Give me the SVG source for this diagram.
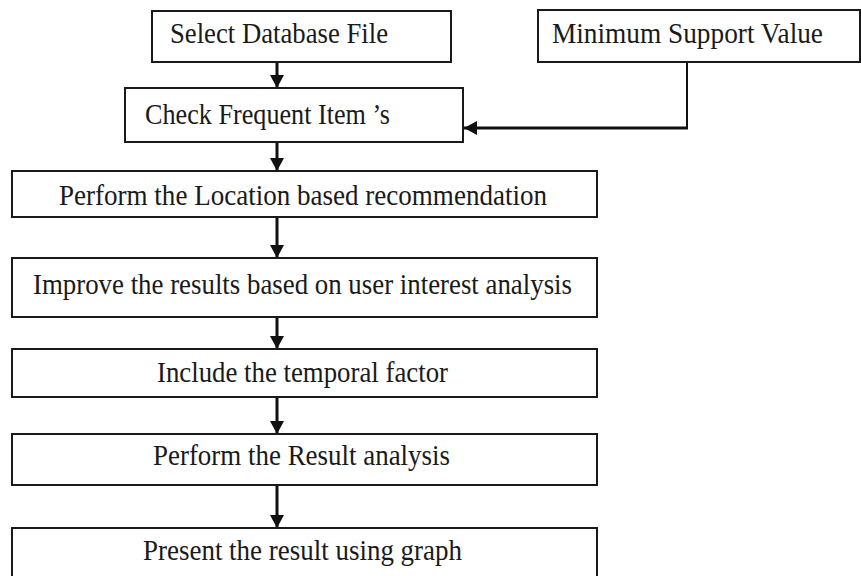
<svg xmlns="http://www.w3.org/2000/svg" width="861" height="576" viewBox="0 0 861 576">
<style>
.box{fill:#fff;stroke:#1a1a1a;stroke-width:2}
.t{font-family:"Liberation Serif","Times New Roman",serif;font-size:29px;fill:#1a1a1a}
.c{stroke:#111;stroke-width:3;fill:none}
</style>
<defs>
<marker id="ah" markerUnits="userSpaceOnUse" markerWidth="16" markerHeight="16" viewBox="0 0 16 16" refX="13" refY="8" orient="auto">
<path d="M0,1 L13,8 L0,15 Z" fill="#111"/>
</marker>
</defs>
<rect width="861" height="576" fill="#fff"/>
<g id="connectors">
<line class="c" x1="277" y1="62" x2="277" y2="88" marker-end="url(#ah)"/>
<line class="c" x1="277" y1="142" x2="277" y2="171" marker-end="url(#ah)"/>
<line class="c" x1="277" y1="217" x2="277" y2="258" marker-end="url(#ah)"/>
<line class="c" x1="277" y1="317" x2="277" y2="349" marker-end="url(#ah)"/>
<line class="c" x1="277" y1="397" x2="277" y2="434" marker-end="url(#ah)"/>
<line class="c" x1="277" y1="485" x2="277" y2="528" marker-end="url(#ah)"/>
<polyline style="stroke:#111;stroke-width:2;fill:none" points="687,62 687,128"/>
<line class="c" x1="688" y1="128" x2="464" y2="128" stroke-width="3.5" marker-end="url(#ah)"/>
</g>
<g id="n1"><rect class="box" x="152" y="11" width="299" height="51"/><text class="t" x="170" y="43" textLength="218" lengthAdjust="spacingAndGlyphs">Select Database File</text></g>
<g id="n2"><rect class="box" x="538" y="10" width="322" height="52"/><text class="t" x="552" y="43" textLength="271" lengthAdjust="spacingAndGlyphs">Minimum Support Value</text></g>
<g id="n3"><rect class="box" x="125" y="88" width="338" height="54"/><text class="t" x="145" y="124" textLength="245" lengthAdjust="spacingAndGlyphs">Check Frequent Item ’s</text></g>
<g id="n4"><rect class="box" x="12" y="171" width="585" height="46"/><text class="t" x="59" y="205" textLength="488" lengthAdjust="spacingAndGlyphs">Perform the Location based recommendation</text></g>
<g id="n5"><rect class="box" x="12" y="258" width="585" height="59"/><text class="t" x="33" y="294" textLength="539" lengthAdjust="spacingAndGlyphs">Improve the results based on user interest analysis</text></g>
<g id="n6"><rect class="box" x="12" y="349" width="585" height="48"/><text class="t" x="157" y="382" textLength="291" lengthAdjust="spacingAndGlyphs">Include the temporal factor</text></g>
<g id="n7"><rect class="box" x="12" y="434" width="585" height="51"/><text class="t" x="153" y="465" textLength="297" lengthAdjust="spacingAndGlyphs">Perform the Result analysis</text></g>
<g id="n8"><rect class="box" x="12" y="528" width="585" height="60"/><text class="t" x="143" y="560" textLength="319" lengthAdjust="spacingAndGlyphs">Present the result using graph</text></g>
</svg>
